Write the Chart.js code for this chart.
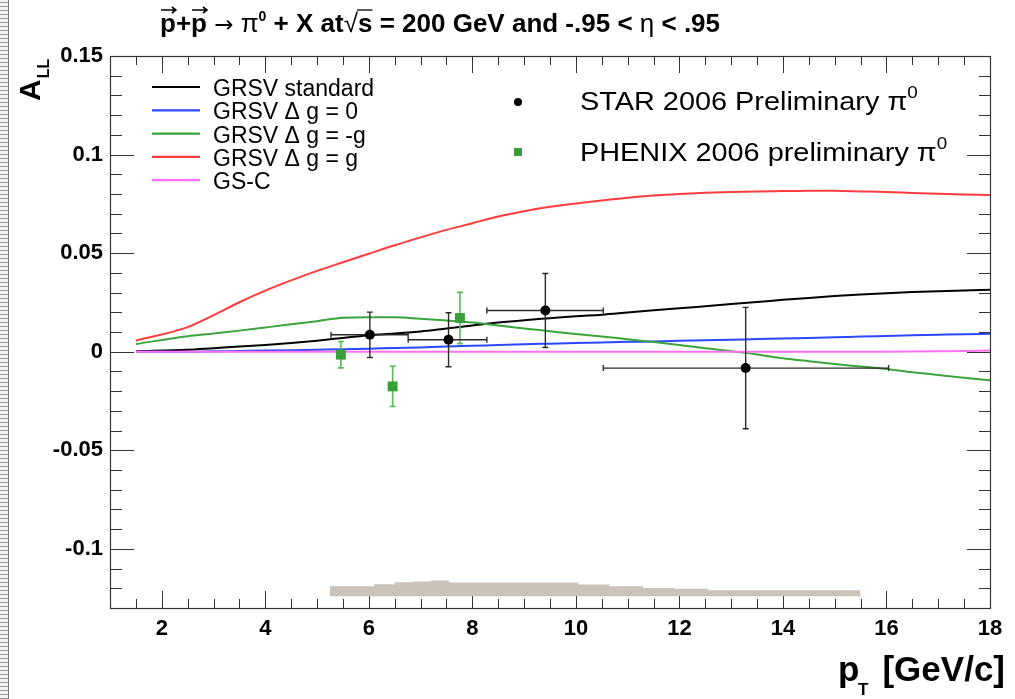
<!DOCTYPE html>
<html><head><meta charset="utf-8">
<script src="https://cdn.jsdelivr.net/npm/chart.js@4"></script>
<style>html,body{margin:0;padding:0;background:#fff}#wrap{width:1015px;height:699px;position:relative}</style>
</head><body><div id="wrap"><canvas id="c" width="1015" height="699"></canvas></div>
<script>
// ---------- data ----------
const ptGrid = [1.5, 2.5, 3, 3.5, 4, 4.5, 5, 5.5, 6, 6.5, 7, 7.5, 8, 8.5, 9, 9.5, 10, 10.5, 11, 11.5, 12, 12.5, 13, 13.5, 14, 14.5, 15, 15.5, 16, 16.5, 17, 17.5, 18];
const grsvStd = [0.0002, 0.001, 0.0018, 0.0026, 0.0034, 0.0044, 0.0056, 0.007, 0.0084, 0.0092, 0.0103, 0.0118, 0.0133, 0.0148, 0.016, 0.017, 0.018, 0.0188, 0.0199, 0.021, 0.022, 0.0231, 0.0242, 0.0252, 0.0263, 0.0273, 0.0282, 0.029, 0.0297, 0.0303, 0.0307, 0.0311, 0.0314];
const grsvDg0 = [0, 0, 0.0002, 0.0004, 0.0006, 0.0008, 0.001, 0.0012, 0.0015, 0.0019, 0.0022, 0.0026, 0.003, 0.0034, 0.0038, 0.0041, 0.0044, 0.0047, 0.005, 0.0052, 0.0055, 0.0058, 0.0061, 0.0064, 0.0067, 0.007, 0.0073, 0.0077, 0.008, 0.0083, 0.0086, 0.0089, 0.0091];
const grsvDgMinusG = [0.0039, 0.0078, 0.0092, 0.0107, 0.0123, 0.0139, 0.0155, 0.0172, 0.0175, 0.0175, 0.0167, 0.0158, 0.0148, 0.0133, 0.0118, 0.0104, 0.009, 0.0077, 0.0063, 0.0049, 0.0034, 0.0017, 0.0003, -0.0014, -0.0033, -0.0048, -0.0062, -0.0075, -0.0088, -0.0104, -0.0118, -0.0132, -0.0145];
const grsvDgG = [0.0056, 0.0125, 0.0186, 0.0251, 0.031, 0.0362, 0.041, 0.0454, 0.0497, 0.054, 0.058, 0.0618, 0.0652, 0.0686, 0.0713, 0.0735, 0.0752, 0.0767, 0.0781, 0.0792, 0.08, 0.0806, 0.081, 0.0813, 0.0815, 0.0817, 0.0816, 0.0813, 0.081, 0.0805, 0.0801, 0.0798, 0.0795];
const gsC = [0, 0, 0, 0, 0, 0, 0, 0, 0, 0, 0, 0, 0, 0, 0, 0, 0, 0, 0, 0, 0, 0, 0, 0, 0, 0, 0, 0, 0, 0.0001, 0.0002, 0.0003, 0.0006];

const starPt = [6.02, 7.54, 9.41, 13.28];
const starPtLo = [5.27, 6.76, 8.28, 10.53];
const starPtHi = [6.76, 8.28, 10.53, 16.04];
const starAll = [0.0086, 0.0061, 0.0209, -0.0083];
const starErr = [0.0115, 0.0137, 0.0188, 0.0308];

const phenixPt = [5.46, 6.46, 7.76];
const phenixAll = [-0.0015, -0.0176, 0.0171];
const phenixErr = [0.0067, 0.0102, 0.013];

const sysEdges = [5.25, 6.1, 6.5, 6.85, 7.2, 7.55, 10.05, 10.65, 11.3, 11.9, 12.55, 13.15, 15.5];
const sysTop = [-0.1202, -0.119, -0.118, -0.117, -0.1166, -0.1160, -0.1171, -0.1181, -0.119, -0.1198, -0.1202, -0.1210];
const sysBase = -0.1240;

const xTickValues = [2, 4, 6, 8, 10, 12, 14, 16, 18];
const xTickLabels = ['2', '4', '6', '8', '10', '12', '14', '16', '18'];
const yTickValues = [-0.1, -0.05, 0, 0.05, 0.1, 0.15];
const yTickLabels = ['-0.1', '-0.05', '0', '0.05', '0.1', '0.15'];

const curveNames = ['GRSV standard', 'GRSV \u0394 g = 0', 'GRSV \u0394 g = -g', 'GRSV \u0394 g = g', 'GS-C'];
const curveColors = ['#000000', '#2a48ff', '#3aa53a', '#ff3c3c', '#ff70f0'];

// ---------- chart ----------
const FONT = '"Liberation Sans", Arial, Helvetica, sans-serif';
const curvePts = ys => ptGrid.map((x, i) => ({x, y: ys[i]}));
const curveSeries = [grsvStd, grsvDg0, grsvDgMinusG, grsvDgG, gsC];

const datasets = curveSeries.map((ys, i) => ({
  label: curveNames[i], data: curvePts(ys), showLine: true, borderColor: curveColors[i],
  borderWidth: 2, pointRadius: 0, tension: 0.3, cubicInterpolationMode: 'monotone', order: 2 + (4 - i) * 0.1
}));
datasets.push({
  label: 'STAR 2006 Preliminary', data: starPt.map((x, i) => ({x, y: starAll[i]})),
  pointStyle: 'circle', pointRadius: 5, backgroundColor: '#000', borderColor: '#000', borderWidth: 0, order: 0
});
datasets.push({
  label: 'PHENIX 2006 preliminary', data: phenixPt.map((x, i) => ({x, y: phenixAll[i]})),
  pointStyle: 'rect', pointRadius: 7, backgroundColor: '#3a9e3a', borderColor: '#3a9e3a', borderWidth: 0, order: 0.5
});
datasets.push({
  label: 'sys', data: sysEdges.map((x, i) => ({x, y: sysTop[Math.min(i, sysTop.length - 1)]})),
  showLine: true, stepped: 'after', fill: {value: sysBase}, backgroundColor: '#cbc2b9',
  borderWidth: 0, borderColor: 'rgba(0,0,0,0)', pointRadius: 0, order: 5
});

function drawAxisTicks(chart) {
  const {ctx, chartArea: a, scales: {x, y}} = chart;
  ctx.save();
  ctx.strokeStyle = '#333';
  ctx.lineWidth = 1;
  ctx.beginPath();
  for (let k = 2; k <= 36; k++) {
    const v = k / 2; const px = Math.round(x.getPixelForValue(v)) + 0.5;
    const major = (k % 4 === 0);
    const L = major ? 17 : 9;
    ctx.moveTo(px, a.bottom); ctx.lineTo(px, a.bottom - L);
    ctx.moveTo(px, a.top); ctx.lineTo(px, a.top + L);
  }
  for (let k = -13; k <= 15; k++) {
    const v = k / 100; const py = Math.round(y.getPixelForValue(v)) + 0.5;
    const major = (k % 5 === 0);
    ctx.moveTo(a.left, py); ctx.lineTo(a.left + (major ? 24 : 12), py);
    ctx.moveTo(a.right, py); ctx.lineTo(a.right - (major ? 23 : 11), py);
  }
  ctx.stroke();
  ctx.restore();
}

const framePlugin = {
  id: 'frame',
  beforeDraw(chart) {
    // scanned edge strip on the far left of the picture
    const {ctx} = chart;
    ctx.save();
    ctx.fillStyle = '#f2f2f2'; ctx.fillRect(0, 0, 9, 699);
    ctx.strokeStyle = '#9a9a9a'; ctx.lineWidth = 1;
    ctx.beginPath();
    for (let yy = 2; yy < 699; yy += 4) { ctx.moveTo(0, yy + 0.5); ctx.lineTo(8, yy + 0.5); }
    ctx.stroke();
    ctx.strokeStyle = '#777'; ctx.beginPath(); ctx.moveTo(8.5, 0); ctx.lineTo(8.5, 699); ctx.stroke();
    ctx.restore();
  },
  beforeDatasetsDraw(chart) { drawAxisTicks(chart); },
  afterDraw(chart) {
    const {ctx, chartArea: a} = chart;
    ctx.save();
    ctx.strokeStyle = '#333'; ctx.lineWidth = 1.2;
    ctx.strokeRect(Math.round(a.left) + 0.5, Math.round(a.top) + 0.5, Math.round(a.right - a.left), Math.round(a.bottom - a.top));
    ctx.restore();
  }
};

const errPlugin = {
  id: 'errbars',
  beforeDatasetDraw(chart, args) {
    const {ctx, scales: {x, y}} = chart;
    const idx = args.index;
    if (idx === 5) {
      ctx.save(); ctx.strokeStyle = '#2a2a2a'; ctx.lineWidth = 1.4; ctx.beginPath();
      starPt.forEach((v, i) => {
        const px = x.getPixelForValue(v), py = y.getPixelForValue(starAll[i]);
        const xl = x.getPixelForValue(starPtLo[i]), xh = x.getPixelForValue(starPtHi[i]);
        const yt = y.getPixelForValue(starAll[i] + starErr[i]), yb = y.getPixelForValue(starAll[i] - starErr[i]);
        ctx.moveTo(xl, py); ctx.lineTo(xh, py);
        ctx.moveTo(xl, py - 3); ctx.lineTo(xl, py + 3);
        ctx.moveTo(xh, py - 3); ctx.lineTo(xh, py + 3);
        ctx.moveTo(px, yt); ctx.lineTo(px, yb);
        ctx.moveTo(px - 3, yt); ctx.lineTo(px + 3, yt);
        ctx.moveTo(px - 3, yb); ctx.lineTo(px + 3, yb);
      });
      ctx.stroke(); ctx.restore();
    }
    if (idx === 6) {
      ctx.save(); ctx.strokeStyle = '#5cb85c'; ctx.lineWidth = 1.6; ctx.beginPath();
      phenixPt.forEach((v, i) => {
        const px = x.getPixelForValue(v);
        const yt = y.getPixelForValue(phenixAll[i] + phenixErr[i]), yb = y.getPixelForValue(phenixAll[i] - phenixErr[i]);
        ctx.moveTo(px, yt); ctx.lineTo(px, yb);
        ctx.moveTo(px - 3, yt); ctx.lineTo(px + 3, yt);
        ctx.moveTo(px - 3, yb); ctx.lineTo(px + 3, yb);
      });
      ctx.stroke(); ctx.restore();
    }
  }
};

function segText(ctx, segs, x0, base) {
  let x = x0;
  segs.forEach(s => {
    ctx.font = s.f;
    const w = ctx.measureText(s.t).width;
    ctx.fillText(s.t, x, base + (s.dy || 0));
    if (s.arrow) {
      const ay = base - 22;
      ctx.save(); ctx.lineWidth = 1.6; ctx.beginPath();
      ctx.moveTo(x + 1, ay); ctx.lineTo(x + w, ay);
      ctx.moveTo(x + w - 4, ay - 3); ctx.lineTo(x + w, ay); ctx.lineTo(x + w - 4, ay + 3);
      ctx.stroke(); ctx.restore();
    }
    if (s.over) {
      ctx.save(); ctx.lineWidth = 1.3; ctx.beginPath();
      ctx.moveTo(x - 1, base - 22); ctx.lineTo(x + w, base - 22); ctx.stroke(); ctx.restore();
    }
    x += w;
  });
  return x;
}

const textPlugin = {
  id: 'texts',
  afterDraw(chart) {
    const {ctx} = chart;
    ctx.save();
    ctx.fillStyle = '#000'; ctx.strokeStyle = '#000';
    ctx.textBaseline = 'alphabetic'; ctx.textAlign = 'left';
    // title
    const B = 'bold 26px ' + FONT, N = '26px ' + FONT;
    segText(ctx, [
      {t: 'p', f: B, arrow: true}, {t: '+', f: B}, {t: 'p', f: B, arrow: true},
      {t: ' ', f: B}, {t: '\u2192', f: '23px "DejaVu Sans"'}, {t: ' ', f: B},
      {t: '\u03C0', f: N}, {t: '0', f: 'bold 14px ' + FONT, dy: -11},
      {t: ' + X at', f: B}, {t: '\u221A', f: N}, {t: 's', f: B, over: true},
      {t: ' = 200 GeV and -.95 < ', f: B}, {t: '\u03B7', f: N}, {t: ' < .95', f: B}
    ], 160, 32);

    // left legend
    ctx.font = '23px ' + FONT;
    curveNames.forEach((name, i) => {
      const base = 96 + i * 23.3;
      ctx.save(); ctx.strokeStyle = curveColors[i]; ctx.lineWidth = 2.2;
      ctx.beginPath(); ctx.moveTo(152, base - 9); ctx.lineTo(200, base - 9); ctx.stroke(); ctx.restore();
      ctx.fillText(name, 213, base);
    });

    // right legend
    ctx.beginPath(); ctx.arc(518, 102, 4, 0, Math.PI * 2); ctx.fill();
    ctx.save(); ctx.fillStyle = '#3a9e3a'; ctx.fillRect(514, 148, 8, 8); ctx.restore();
    ctx.save(); ctx.translate(580, 0); ctx.scale(1.11, 1);
    segText(ctx, [{t: 'STAR 2006 Preliminary \u03C0', f: '26px ' + FONT}, {t: '0', f: '17px ' + FONT, dy: -12}], 0, 110);
    segText(ctx, [{t: 'PHENIX 2006 preliminary \u03C0', f: '26px ' + FONT}, {t: '0', f: '17px ' + FONT, dy: -12}], 0, 161);
    ctx.restore();

    // y title A_LL
    ctx.save();
    ctx.translate(40, 101); ctx.rotate(-Math.PI / 2);
    ctx.font = 'bold 30px ' + FONT;
    const wA = ctx.measureText('A').width;
    ctx.fillText('A', 0, 0);
    ctx.font = 'bold 16px ' + FONT;
    ctx.fillText('LL', wA + 1, 9);
    ctx.restore();

    // x title p_T [GeV/c]
    ctx.font = 'bold 35px ' + FONT;
    ctx.textAlign = 'right';
    ctx.fillText('[GeV/c]', 1005, 681);
    ctx.textAlign = 'left';
    ctx.fillText('p', 838, 681);
    ctx.font = 'bold 17px ' + FONT;
    ctx.fillText('T', 858, 695);
    ctx.restore();
  }
};

new Chart(document.getElementById('c').getContext('2d'), {
  type: 'scatter',
  data: {datasets},
  options: {
    responsive: false, animation: false, devicePixelRatio: 1,
    layout: {padding: {top: 56, right: 25, left: 0, bottom: 0}},
    plugins: {legend: {display: false}, title: {display: false}, tooltip: {enabled: false}},
    scales: {
      x: {
        type: 'linear', min: 1, max: 18,
        grid: {display: false, drawTicks: false}, border: {display: false},
        afterBuildTicks: s => { s.ticks = xTickValues.map(v => ({value: v})); },
        afterFit: s => { s.height = 91; },
        ticks: {autoSkip: false, maxRotation: 0, padding: 8, color: '#000',
          font: {family: FONT, size: 22, weight: 'bold'},
          callback: (v, i) => xTickLabels[i]}
      },
      y: {
        type: 'linear', min: -0.13, max: 0.15,
        grid: {display: false, drawTicks: false}, border: {display: false},
        afterBuildTicks: s => { s.ticks = yTickValues.map(v => ({value: v})); },
        afterFit: s => { s.width = 110; },
        ticks: {autoSkip: false, padding: 7, color: '#000',
          font: {family: FONT, size: 22, weight: 'bold'},
          callback: (v, i) => yTickLabels[i]}
      }
    }
  },
  plugins: [framePlugin, errPlugin, textPlugin]
});
</script></body></html>
